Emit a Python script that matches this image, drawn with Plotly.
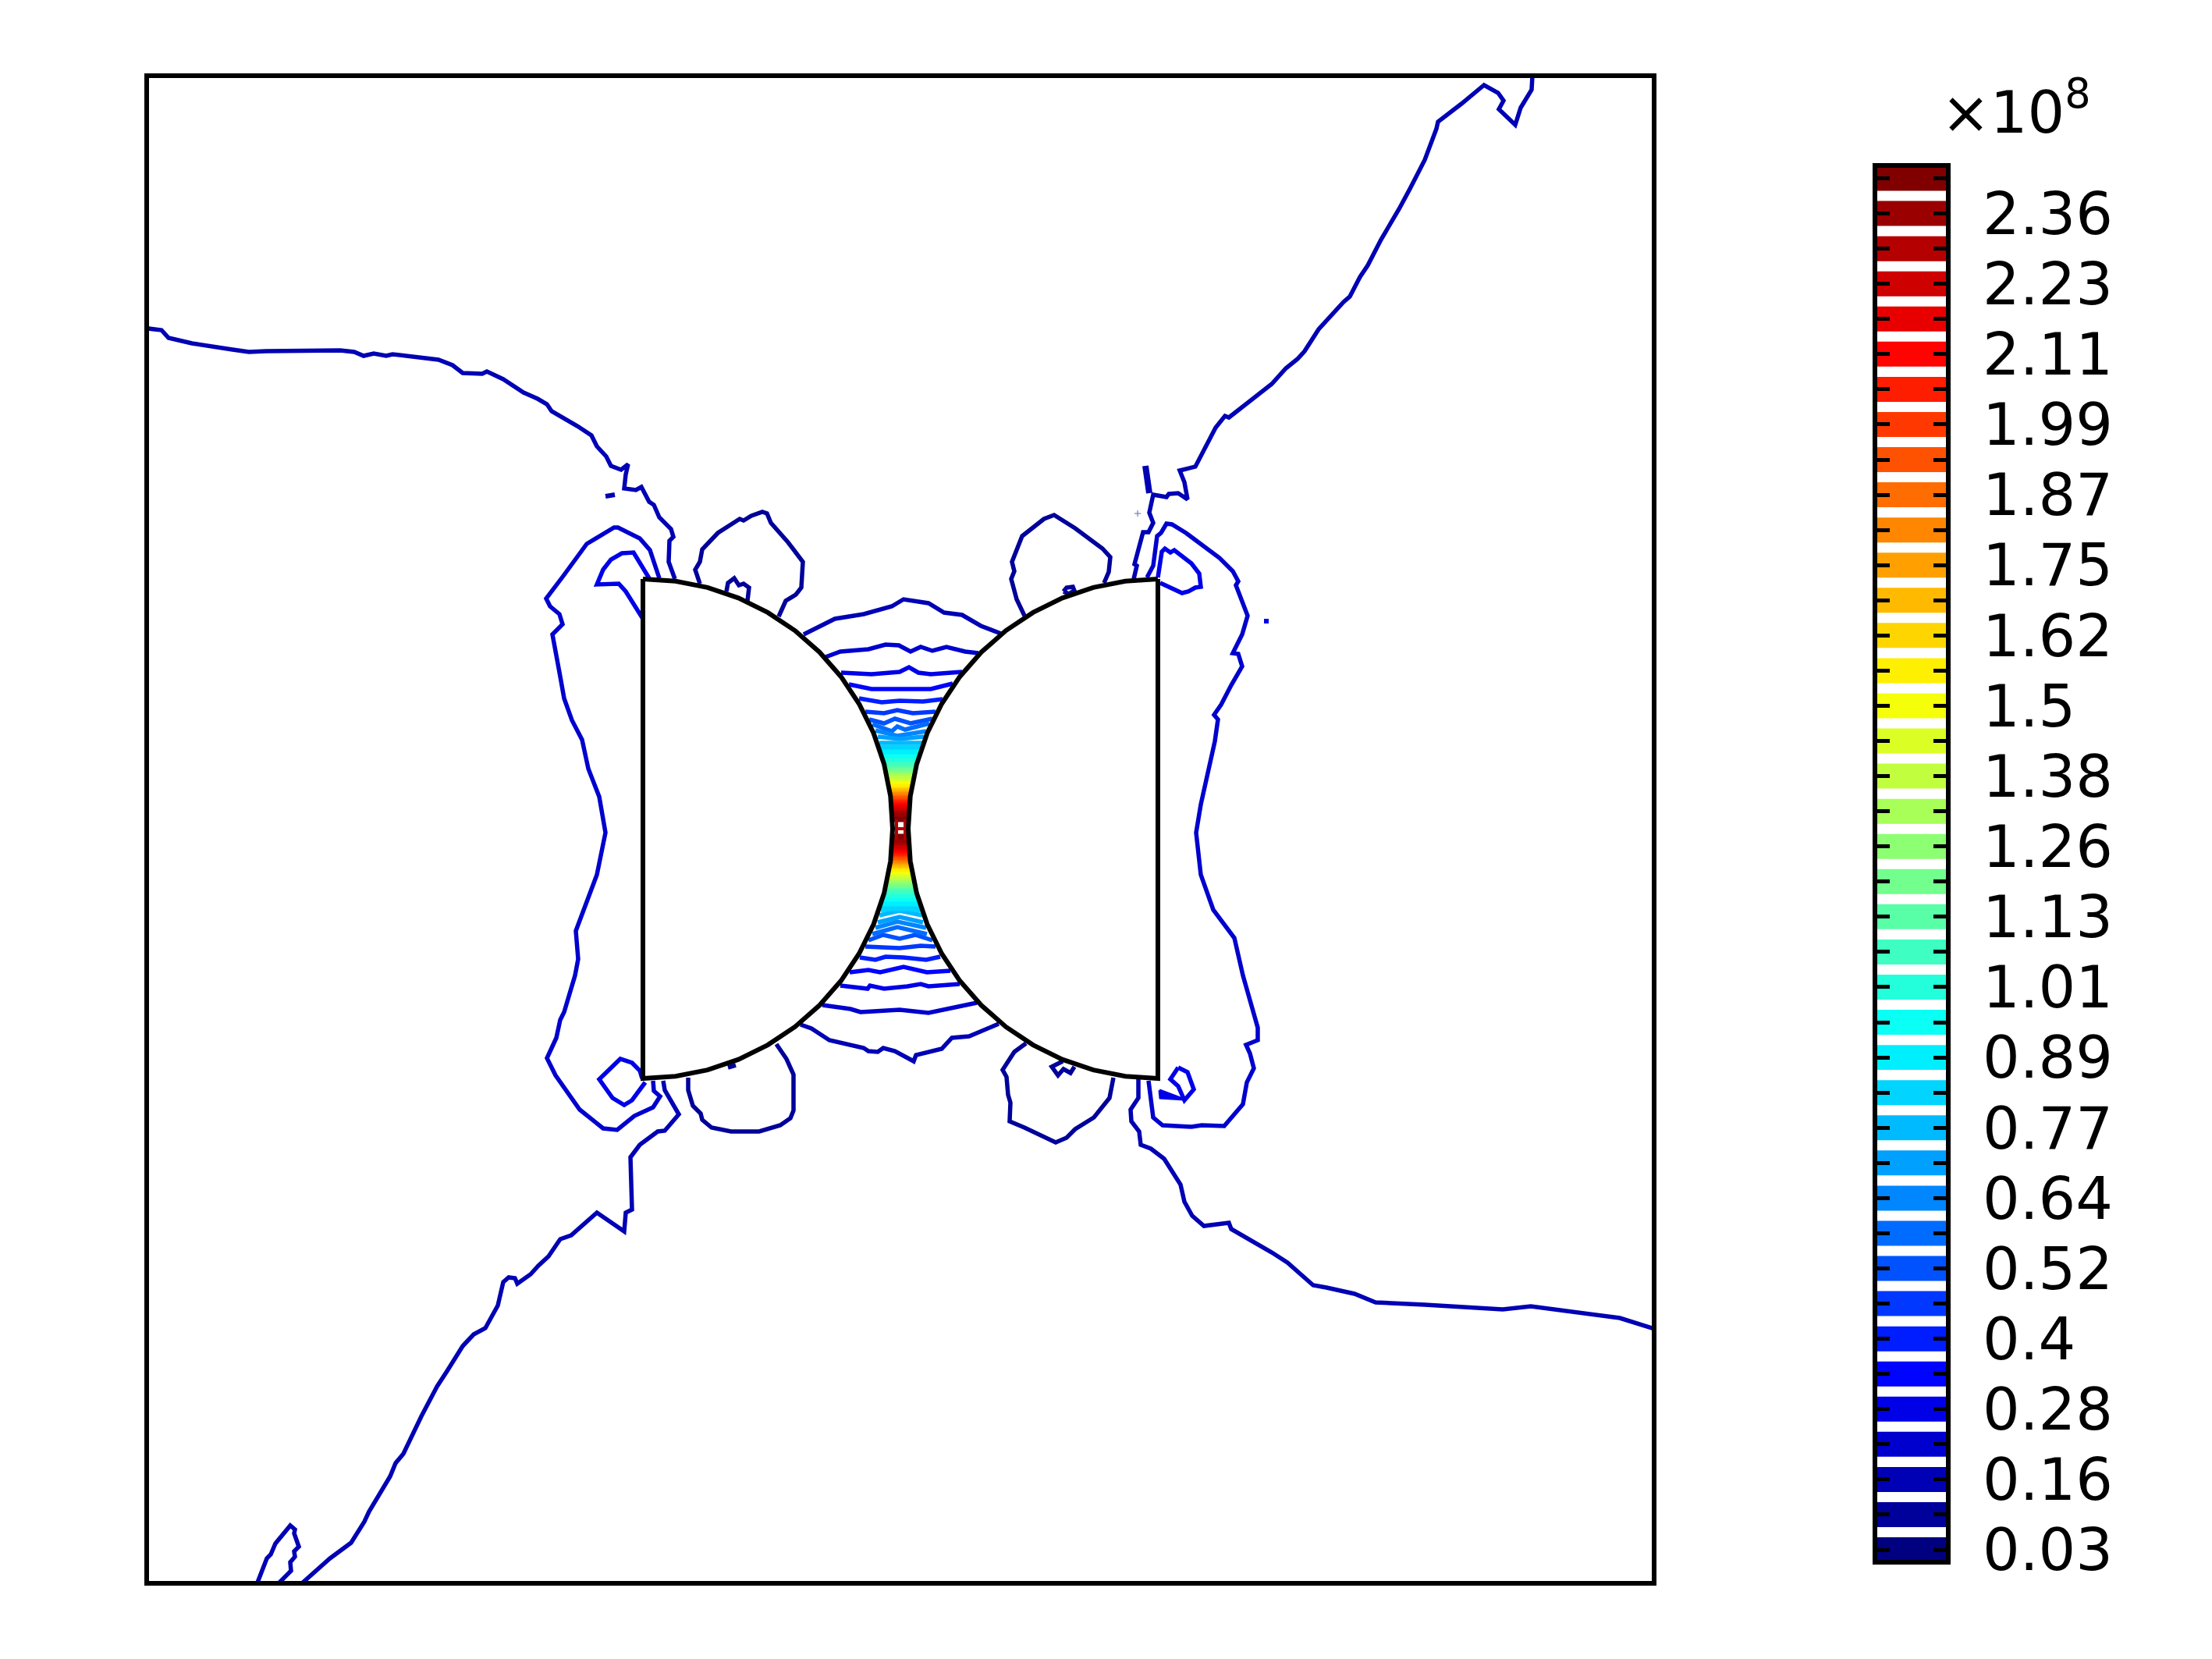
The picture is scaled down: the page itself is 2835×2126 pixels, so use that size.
import plotly.graph_objects as go

# Contour levels of the colour bar (x 10^8), bottom to top
LEVEL_VALUES = [0.03, 0.09, 0.16, 0.22, 0.28, 0.34, 0.4, 0.46, 0.52, 0.58,
                0.64, 0.71, 0.77, 0.83, 0.89, 0.95, 1.01, 1.07, 1.13, 1.2,
                1.26, 1.32, 1.38, 1.44, 1.5, 1.56, 1.62, 1.69, 1.75, 1.81,
                1.87, 1.93, 1.99, 2.05, 2.11, 2.17, 2.23, 2.29, 2.36, 2.42]
LABELLED_LEVELS = ["0.03", "0.16", "0.28", "0.4", "0.52", "0.64", "0.77", "0.89", "1.01", "1.13",
                   "1.26", "1.38", "1.5", "1.62", "1.75", "1.87", "1.99", "2.11", "2.23", "2.36"]

# Outline of the two half discs: quarter arc as offsets from the flat side
ARC_RUN = [0, 41.8, 82.8, 122.5, 160, 194.8, 226.3, 253.9, 277.1, 295.6, 309.1, 317.3, 320]
ARC_RISE = [320, 317.3, 309.1, 295.6, 277.1, 253.9, 226.3, 194.8, 160, 122.5, 82.8, 41.8, 0]

# Contours (axis units are the picture's own)
MAIN_TOP_RIGHT = [(1964, 97), (1963, 115), (1949, 138), (1942, 160), (1921, 140), (1927, 129), (1920, 119),
                  (1902, 109), (1873, 133), (1843, 156), (1841, 165), (1826, 205), (1807, 242), (1793, 268),
                  (1770, 307), (1753, 340), (1743, 355), (1730, 380), (1722, 387), (1703, 408), (1690, 422),
                  (1672, 450), (1663, 460), (1648, 472), (1630, 492), (1575, 535), (1570, 533), (1558, 548),
                  (1532, 598), (1512, 603), (1518, 618), (1522, 640), (1510, 632), (1498, 633), (1495, 637),
                  (1478, 634), (1473, 657), (1478, 670), (1472, 682), (1465, 682), (1454, 723), (1457, 725),
                  (1453, 742)]
MAIN_TOP_LEFT = [(190, 421), (207, 423), (216, 433), (246, 440), (298, 448), (319, 451), (341, 450), (436, 449),
                 (454, 451), (466, 456), (479, 453), (495, 456), (503, 454), (562, 461), (580, 468), (593, 478),
                 (618, 479), (624, 476), (645, 486), (665, 498), (671, 503), (689, 511), (701, 518), (707, 527),
                 (740, 546), (758, 558), (765, 572), (777, 585), (783, 597), (796, 602), (805, 595), (802, 608),
                 (800, 626), (815, 628), (822, 624), (832, 643), (838, 647), (845, 663), (860, 678), (863, 688),
                 (858, 693), (857, 720), (865, 742)]
MAIN_BOTTOM_LEFT = [(850, 1385), (852, 1397), (870, 1428), (852, 1449), (843, 1450), (820, 1467), (808, 1483),
                    (810, 1550), (802, 1554), (800, 1578), (765, 1554), (742, 1575), (732, 1583), (718, 1588),
                    (703, 1610), (690, 1622), (680, 1633), (663, 1645), (660, 1638), (652, 1637), (645, 1643),
                    (638, 1673), (622, 1702), (607, 1710), (593, 1725), (573, 1757), (560, 1777), (540, 1815),
                    (517, 1863), (507, 1875), (500, 1892), (473, 1937), (467, 1950), (450, 1977), (423, 1997),
                    (388, 2028)]
CORNER_BOTTOM_LEFT = [(330, 2028), (342, 1997), (347, 1992), (353, 1978), (372, 1955), (378, 1960), (377, 1965),
                      (383, 1982), (377, 1988), (378, 1995), (372, 2002), (373, 2013), (358, 2028)]
MAIN_BOTTOM_RIGHT = [(1459, 1383), (1459, 1407), (1449, 1422), (1450, 1437), (1460, 1450), (1462, 1467),
                     (1475, 1472), (1492, 1485), (1513, 1518), (1518, 1540), (1528, 1558), (1543, 1571),
                     (1575, 1567), (1578, 1575), (1630, 1605), (1650, 1618), (1683, 1647), (1700, 1650),
                     (1736, 1658), (1763, 1669), (1826, 1672), (1926, 1678), (1962, 1674), (2076, 1689), (2121, 1703)]

LOBE_RIGHT = [(1470, 740), (1478, 725), (1483, 687), (1488, 683), (1495, 671), (1502, 672), (1520, 683), (1563, 715),
              (1580, 732), (1587, 745), (1584, 750), (1599, 789), (1592, 813), (1580, 837), (1587, 838), (1592, 854),
              (1578, 878), (1565, 903), (1556, 916), (1561, 922), (1557, 950), (1539, 1031), (1533, 1067),
              (1539, 1121), (1555, 1166), (1582, 1202), (1593, 1250), (1612, 1317), (1612, 1333), (1597, 1339),
              (1602, 1350), (1607, 1369), (1598, 1387), (1593, 1415), (1569, 1443), (1540, 1442), (1527, 1444),
              (1490, 1442), (1478, 1432), (1473, 1400), (1472, 1385)]
LOBE_LEFT = [(845, 741), (833, 705), (820, 690), (792, 676), (787, 676), (752, 697), (722, 738), (700, 767),
             (705, 777), (717, 787), (721, 800), (708, 813), (718, 867), (723, 895), (733, 923), (746, 948),
             (754, 985), (768, 1021), (776, 1067), (765, 1121), (738, 1193), (741, 1229), (737, 1250), (723, 1297),
             (718, 1307), (713, 1330), (701, 1356), (712, 1378), (743, 1422), (773, 1446), (791, 1448), (813, 1430),
             (837, 1419), (846, 1405), (838, 1398), (837, 1385)]
LOOP_RIGHT_UP = [(1484, 740), (1489, 707), (1493, 703), (1500, 708), (1505, 705), (1527, 722), (1537, 735),
                 (1539, 752), (1532, 753), (1523, 758), (1515, 760), (1487, 747)]
LOOP_RIGHT_DOWN = [(1510, 1368), (1522, 1374), (1530, 1396), (1518, 1410), (1510, 1392), (1500, 1383), (1510, 1368)]
WEDGE_RIGHT_DOWN = [(1486, 1397), (1518, 1409), (1487, 1407), (1486, 1397)]
LOOP_LEFT_UP = [(832, 741), (823, 725), (812, 708), (797, 709), (783, 717), (773, 730), (765, 749), (793, 748),
                (802, 758), (824, 793)]
LOOP_LEFT_DOWN = [(823, 1382), (820, 1372), (810, 1362), (795, 1357), (768, 1383), (785, 1407), (800, 1416),
                  (810, 1410), (827, 1387)]

ROUND_UP_LEFT = [(998, 790), (1007, 770), (1020, 762), (1027, 753), (1029, 720), (1010, 695), (988, 670), (983, 658),
                 (977, 656), (963, 661), (953, 667), (948, 665), (920, 683), (900, 704), (897, 720), (891, 730),
                 (897, 748)]
ROUND_UP_RIGHT = [(1313, 789), (1303, 768), (1296, 742), (1300, 732), (1297, 720), (1308, 693), (1310, 687),
                  (1338, 665), (1351, 660), (1378, 677), (1413, 703), (1423, 714), (1421, 733), (1415, 747)]
ROUND_DOWN_LEFT = [(882, 1381), (882, 1397), (888, 1417), (898, 1427), (900, 1435), (912, 1445), (937, 1450),
                   (973, 1450), (1000, 1442), (1013, 1433), (1017, 1423), (1017, 1377), (1008, 1357), (995, 1338)]
ROUND_DOWN_RIGHT = [(1315, 1337), (1300, 1348), (1285, 1371), (1290, 1380), (1292, 1403), (1295, 1413), (1294, 1437),
                    (1313, 1445), (1353, 1464), (1367, 1458), (1378, 1447), (1402, 1432), (1422, 1407), (1427, 1381)]
BUMP_UP_LEFT = [(931, 758), (933, 747), (941, 741), (947, 750), (953, 748), (960, 753), (958, 770)]
BUMP_UP_RIGHT = [(1363, 758), (1367, 753), (1375, 752), (1377, 757), (1370, 761), (1363, 758)]
BUMP_DOWN_LEFT = [(933, 1368), (943, 1365)]
BUMP_DOWN_RIGHT = [(1362, 1360), (1348, 1367), (1356, 1378), (1363, 1370), (1372, 1375), (1377, 1367)]
SPECK_LEFT = [(776, 636), (788, 634)]
SPECK_RIGHT = [(1468, 597), (1473, 632)]
DOT_RIGHT = [(1623, 796)]
PLUS_RIGHT = [(1458, 658)]

# Lines crossing the gap, outermost first (first one is level 2)
NECK_TOP = [
    [(1030, 813), (1070, 793), (1107, 787), (1143, 777), (1158, 768), (1190, 773), (1210, 785), (1233, 788), (1257, 802), (1283, 812)],
    [(1058, 842), (1077, 835), (1113, 832), (1135, 826), (1152, 827), (1167, 835), (1180, 829), (1195, 834), (1213, 829), (1237, 835), (1254, 837)],
    [(1078, 862), (1117, 864), (1153, 861), (1165, 855), (1177, 862), (1193, 864), (1233, 861)],
    [(1088, 877), (1117, 883), (1153, 883), (1193, 883), (1221, 876)],
    [(1101, 895), (1130, 900), (1153, 898), (1183, 899), (1208, 896)],
    [(1109, 912), (1133, 914), (1150, 910), (1170, 914), (1199, 912)],
    [(1114, 922), (1133, 927), (1147, 921), (1167, 927), (1195, 921)],
    [(1118, 928), (1143, 937), (1150, 931), (1160, 935), (1191, 927)],
    [(1122, 936), (1150, 943), (1187, 937)],
    [(1125, 944), (1153, 947), (1184, 944)],
    [(1127, 952), (1153, 952), (1182, 952)],
]
NECK_BOTTOM = [
    [(1026, 1313), (1040, 1318), (1063, 1333), (1107, 1343), (1113, 1347), (1125, 1348), (1132, 1343), (1147, 1347), (1171, 1360), (1174, 1352), (1207, 1344), (1220, 1330), (1242, 1328), (1280, 1312)],
    [(1054, 1288), (1090, 1293), (1103, 1297), (1153, 1294), (1190, 1298), (1220, 1292), (1252, 1285)],
    [(1077, 1263), (1112, 1267), (1115, 1263), (1133, 1267), (1163, 1264), (1180, 1261), (1190, 1264), (1230, 1261)],
    [(1089, 1246), (1113, 1243), (1128, 1246), (1158, 1239), (1188, 1246), (1218, 1244)],
    [(1102, 1227), (1122, 1230), (1135, 1226), (1158, 1227), (1187, 1230), (1205, 1226)],
    [(1109, 1213), (1153, 1215), (1180, 1212), (1199, 1213)],
    [(1113, 1205), (1132, 1198), (1153, 1203), (1173, 1198), (1195, 1205)],
    [(1118, 1197), (1150, 1188), (1188, 1197)],
    [(1122, 1189), (1150, 1181), (1187, 1189)],
    [(1125, 1182), (1153, 1175), (1183, 1182)],
    [(1127, 1173), (1153, 1167), (1182, 1173)],
    [(1129, 1167), (1153, 1162), (1180, 1167)],
]
# Inside the throat the levels run together: level index, height above and below
THROAT_LEVEL = list(range(13, 40))
THROAT_TOP = [958, 964, 970, 975, 980, 985, 988, 992, 995, 998, 1002, 1005, 1008, 1012, 1014, 1017, 1019, 1022,
              1024, 1027, 1029, 1032, 1035, 1038, 1042, 1045, 1050]
THROAT_BOTTOM = [1164, 1158, 1152, 1147, 1142, 1137, 1134, 1130, 1127, 1124, 1120, 1117, 1114, 1110, 1108, 1105, 1103,
                 1100, 1098, 1095, 1093, 1090, 1087, 1084, 1080, 1077, 1072]
THROAT_CORE = [[(1149, 1050), (1149, 1076)], [(1160, 1050), (1160, 1076)], [(1146, 1062), (1163, 1062)]]

# level index of every contour
CONTOURS = [(MAIN_TOP_RIGHT, 2), (MAIN_TOP_LEFT, 2), (MAIN_BOTTOM_LEFT, 2), (CORNER_BOTTOM_LEFT, 2),
            (MAIN_BOTTOM_RIGHT, 2), (LOBE_RIGHT, 3), (LOBE_LEFT, 3), (LOOP_RIGHT_UP, 4), (LOOP_RIGHT_DOWN, 4),
            (LOOP_LEFT_UP, 4), (LOOP_LEFT_DOWN, 4), (ROUND_UP_LEFT, 1), (ROUND_UP_RIGHT, 1), (ROUND_DOWN_LEFT, 1),
            (ROUND_DOWN_RIGHT, 1), (BUMP_UP_LEFT, 1), (BUMP_UP_RIGHT, 1), (BUMP_DOWN_LEFT, 1), (BUMP_DOWN_RIGHT, 1)]


def jet(i):
    t = i / (len(LEVEL_VALUES) - 1)
    chan = [max(0, min(1, 1.5 - abs(4 * t - c))) for c in (3, 2, 1)]
    return "rgb(%d,%d,%d)" % tuple(round(255 * c) for c in chan)


def xs(points):
    return [p[0] for p in points]


def ys(points):
    return [p[1] for p in points]


def line_trace(points, color, width):
    return go.Scatter(x=xs(points), y=ys(points), mode="lines", line=dict(color=color, width=width),
                      hoverinfo="skip", showlegend=False)


fig = go.Figure()

# Contours
for points, level in CONTOURS:
    fig.add_trace(line_trace(points, jet(level), 5.5))
for i, points in enumerate(NECK_TOP):
    fig.add_trace(line_trace(points, jet(i + 2), 5.5))
for i, points in enumerate(NECK_BOTTOM):
    fig.add_trace(line_trace(points, jet(i + 2), 5.5))
for level, top, bottom in zip(THROAT_LEVEL, THROAT_TOP, THROAT_BOTTOM):
    fig.add_trace(line_trace([(1120, top), (1190, top)], jet(level), 7))
    fig.add_trace(line_trace([(1120, bottom), (1190, bottom)], jet(level), 7))
for points in THROAT_CORE:
    fig.add_trace(line_trace(points, "#b00000", 4))
fig.add_trace(line_trace(SPECK_LEFT, jet(2), 6))
fig.add_trace(line_trace(SPECK_RIGHT, jet(2), 8))
fig.add_trace(go.Scatter(x=xs(WEDGE_RIGHT_DOWN), y=ys(WEDGE_RIGHT_DOWN), mode="lines", fill="toself",
                         fillcolor=jet(4), line=dict(color=jet(4), width=3), hoverinfo="skip", showlegend=False))
fig.add_trace(go.Scatter(x=xs(DOT_RIGHT), y=ys(DOT_RIGHT), mode="markers",
                         marker=dict(symbol="square", size=6, color=jet(4)), hoverinfo="skip", showlegend=False))
fig.add_trace(go.Scatter(x=xs(PLUS_RIGHT), y=ys(PLUS_RIGHT), mode="markers",
                         marker=dict(symbol="cross-thin", size=6, line=dict(color="#6666aa", width=1)),
                         hoverinfo="skip", showlegend=False))

# The two half discs, white inside, cover the ends of the lines
for flat, sign in ((824, 1), (1484, -1)):
    outline_x = [flat + sign * r for r in ARC_RUN] + [flat + sign * r for r in ARC_RUN[-2::-1]] + [flat]
    outline_y = [1062 - r for r in ARC_RISE] + [1062 + r for r in ARC_RISE[-2::-1]] + [742]
    fig.add_trace(go.Scatter(x=outline_x, y=outline_y, mode="lines", fill="toself", fillcolor="white",
                             line=dict(color="black", width=6), hoverinfo="skip", showlegend=False))

# Colour bar, one band per level on its own axes
level_index = list(range(len(LEVEL_VALUES)))
fig.add_trace(go.Bar(x=[0] * len(level_index), y=[0.71] * len(level_index), base=[i - 0.355 for i in level_index],
                     width=1, marker=dict(color=[jet(i) for i in level_index], line=dict(width=0)),
                     xaxis="x2", yaxis="y2", hoverinfo="skip", showlegend=False))

W = 2835
H = 2126
fig.update_layout(
    width=W, height=H, autosize=False,
    margin=dict(l=0, r=0, t=0, b=0, pad=0, autoexpand=False),
    paper_bgcolor="white", plot_bgcolor="white",
    showlegend=False,
    xaxis=dict(domain=[191 / W, 2117 / W], range=[191, 2117], showgrid=False, zeroline=False,
               showticklabels=False, ticks="", showline=True, linecolor="black", linewidth=6, mirror=True),
    yaxis=dict(domain=[1 - 2026 / H, 1 - 100 / H], range=[2026, 100], showgrid=False, zeroline=False,
               showticklabels=False, ticks="", showline=True, linecolor="black", linewidth=6, mirror=True),
    xaxis2=dict(domain=[2406 / W, 2494 / W], range=[-0.5, 0.5], anchor="y2", showgrid=False, zeroline=False,
                showticklabels=False, ticks="", showline=True, linecolor="black", linewidth=6, mirror=True),
    yaxis2=dict(domain=[1 - 1999 / H, 1 - 215 / H], range=[-0.288, 39.3], anchor="x2", side="right",
                showgrid=False, zeroline=False, showline=True, linecolor="black", linewidth=6, mirror="ticks",
                tickmode="array", tickvals=level_index[::2], ticktext=LABELLED_LEVELS, ticks="inside", ticklen=16,
                tickwidth=5, tickcolor="black", ticklabelstandoff=26,
                minor=dict(tickmode="array", tickvals=level_index[1::2], ticks="inside", ticklen=16,
                           tickwidth=5, tickcolor="black"),
                tickfont=dict(family="DejaVu Sans", size=75, color="black")),
    annotations=[dict(text="×10<sup>8</sup>", xref="paper", yref="paper", x=2486 / W, y=1 - 190 / H,
                      xanchor="left", yanchor="bottom", showarrow=False,
                      font=dict(family="DejaVu Sans", size=75, color="black"))],
)

fig.write_html("out.html", config=dict(displayModeBar=False),
               post_script="document.body.style.margin='0';")
